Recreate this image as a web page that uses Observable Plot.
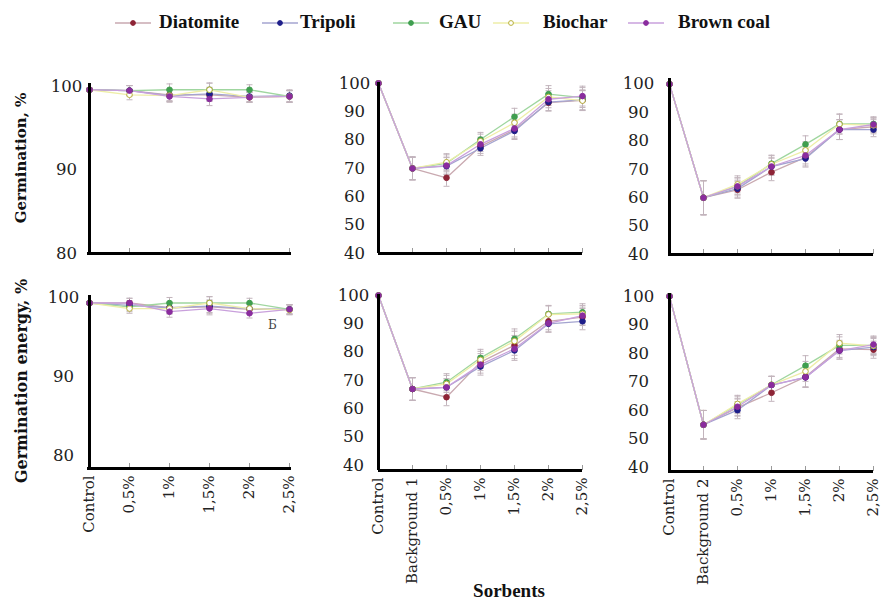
<!DOCTYPE html>
<html>
<head>
<meta charset="utf-8">
<script src="https://cdn.jsdelivr.net/npm/d3@7"></script>
<script src="https://cdn.jsdelivr.net/npm/@observablehq/plot@0.6"></script>
<style>
  html, body { margin: 0; padding: 0; background: #fff; }
  #chart { position: relative; width: 885px; height: 601px; overflow: hidden; background: #fff; }
  .abs { position: absolute; }
  .legtxt { position: absolute; top: 10px; font-family: "Liberation Serif", serif; font-weight: bold; font-size: 19px; color: #111; line-height: 24px; white-space: nowrap; }
  .ytitle { position: absolute; font-family: "DejaVu Serif", serif; font-weight: bold; color: #111; white-space: nowrap; transform: translate(-50%, -50%) rotate(-90deg); }
</style>
</head>
<body>
<div id="chart"></div>
<script>
// ---------- data ----------
const series = ["Diatomite", "Tripoli", "GAU", "Biochar", "Brown coal"];
const lineColors = ["#c9a9b0", "#a4a4d0", "#9fd69f", "#eeeea8", "#c9a0dc"];
const markerColors = ["#8e2436", "#1e1e8a", "#3f9e4f", "#b8b03a", "#8a2c9e"];
const markerFills = ["#8e2436", "#1e1e8a", "#3f9e4f", "#ffffff", "#8a2c9e"];

const catsA = ["Control", "0,5%", "1%", "1,5%", "2%", "2,5%"];
const catsB1 = ["Control", "Background 1", "0,5%", "1%", "1,5%", "2%", "2,5%"];
const catsB2 = ["Control", "Background 2", "0,5%", "1%", "1,5%", "2%", "2,5%"];

const ticksA = [80, 90, 100];
const ticksB = [40, 50, 60, 70, 80, 90, 100];

// rows in series order: Diatomite, Tripoli, GAU, Biochar, Brown coal
const germA = [
  [99.6, 99.5, 99.0, 99.0, 98.7, 98.8],
  [99.6, 99.5, 98.9, 99.1, 98.8, 98.9],
  [99.6, 99.5, 99.6, 99.6, 99.6, 98.8],
  [99.6, 99.0, 98.9, 99.6, 98.7, 98.8],
  [99.6, 99.5, 98.8, 98.5, 98.7, 98.8]
];
const germAErr = [0.2, 0.6, 0.7, 0.8, 0.6, 0.7];

const germB1 = [
  [100, 70, 66.7, 77.8, 83.6, 93.2, 94.0],
  [100, 70, 70.8, 77.1, 83.2, 93.4, 94.2],
  [100, 70, 71.8, 80.2, 88.2, 96.2, 95.0],
  [100, 70, 72.2, 79.6, 86.1, 95.2, 93.9],
  [100, 70, 71.0, 78.5, 84.1, 94.4, 95.5]
];
const germB1Err = [0, 4, 3, 2.5, 3, 3, 3.5];

const germB2 = [
  [100, 60, 62.8, 69.0, 74.2, 84.0, 85.0],
  [100, 60, 63.2, 71.0, 73.8, 84.0, 84.0],
  [100, 60, 64.0, 72.0, 78.8, 86.0, 86.0],
  [100, 60, 64.7, 71.8, 76.7, 85.9, 85.5],
  [100, 60, 64.0, 71.0, 74.9, 84.0, 85.8]
];
const germB2Err = [0, 6, 3, 3, 3, 3.5, 2.5];

const energyA = [
  [99.3, 99.3, 98.7, 98.8, 98.5, 98.5],
  [99.3, 99.0, 98.7, 98.9, 98.6, 98.5],
  [99.3, 98.8, 99.3, 99.3, 99.3, 98.5],
  [99.3, 98.6, 98.6, 99.3, 98.6, 98.4],
  [99.3, 99.3, 98.2, 98.6, 98.0, 98.5]
];
const energyAErr = [0.2, 0.6, 0.7, 0.8, 0.6, 0.6];

const energyB1 = [
  [100, 67, 64.1, 76.5, 82.4, 90.9, 92.4],
  [100, 67, 67.6, 74.9, 80.6, 90.0, 90.9],
  [100, 67, 69.4, 78.0, 84.7, 93.5, 94.1],
  [100, 67, 68.8, 77.3, 83.9, 93.3, 93.5],
  [100, 67, 67.6, 75.6, 81.2, 90.2, 92.9]
];
const energyB1Err = [0, 4, 3, 3, 3.5, 3, 3];

const energyB2 = [
  [100, 55, 61.0, 66.2, 71.8, 81.6, 81.3],
  [100, 55, 60.1, 68.9, 71.6, 81.0, 82.2],
  [100, 55, 62.0, 69.0, 75.7, 82.8, 82.8],
  [100, 55, 62.3, 69.0, 73.7, 83.6, 82.6],
  [100, 55, 61.3, 68.9, 71.6, 81.0, 83.1]
];
const energyB2Err = [0, 5, 3, 3, 3.5, 3, 3];

const errColor = "#c2b4bc";

// ---------- drawing ----------
const chart = document.getElementById("chart");
const capSymbol = { draw(ctx, size) { const w = Math.sqrt(size / Math.PI); ctx.moveTo(-w, 0); ctx.lineTo(w, 0); } };

function panel(cfg) {
  const data = cfg.values.flatMap((row, si) => row.map((v, i) => ({
    series: series[si], si, cat: cfg.cats[i], value: v, err: cfg.err[i]
  })));
  const plotH = cfg.height - cfg.mt - cfg.mb;
  const marks = [
    Plot.ruleX(cfg.cats, {x: d => d, stroke: "#9a9a9a", strokeWidth: 1, insetTop: plotH - 5}),
    Plot.ruleX(data, {x: "cat", y1: d => d.value - d.err, y2: d => d.value + d.err, stroke: errColor, strokeWidth: 1}),
    Plot.dot(data, {x: "cat", y: d => d.value + d.err, symbol: capSymbol, r: 3, stroke: errColor, fill: "none", strokeWidth: 1}),
    Plot.dot(data, {x: "cat", y: d => d.value - d.err, symbol: capSymbol, r: 3, stroke: errColor, fill: "none", strokeWidth: 1}),
    Plot.line(data, {x: "cat", y: "value", z: "series", stroke: d => lineColors[d.si], strokeWidth: 1.3}),
    Plot.dot(data, {x: "cat", y: "value", fill: d => markerFills[d.si], stroke: d => markerColors[d.si], r: 2.8, strokeWidth: 1}),
    Plot.ruleX([cfg.cats[0]], {x: d => d, stroke: "#000", strokeWidth: 3}),
    Plot.ruleY([cfg.y[0]], {y: d => d, stroke: "#000", strokeWidth: 3}),
    Plot.text(cfg.ticks, {y: d => d, text: d => String(d), frameAnchor: "left", dx: cfg.labelDx, textAnchor: "middle", fontSize: 16.5, fill: "#222"})
  ];
  if (cfg.showX) {
    marks.push(Plot.axisX({tickRotate: -90, tickSize: 0, tickPadding: 7, fontSize: 15, fill: "#222", label: null}));
  }
  if (cfg.extra) marks.push(...cfg.extra);
  const svg = Plot.plot({
    width: cfg.width, height: cfg.height,
    marginTop: cfg.mt, marginBottom: cfg.mb, marginLeft: cfg.ml, marginRight: cfg.mr,
    x: {type: "point", domain: cfg.cats, padding: 0, axis: cfg.showX ? undefined : null},
    y: {domain: cfg.y, axis: null},
    color: {type: "identity"},
    style: {fontFamily: "DejaVu Serif, serif", background: "transparent", overflow: "visible"},
    marks
  });
  svg.classList.add("abs");
  svg.style.left = cfg.left + "px";
  svg.style.top = cfg.top + "px";
  chart.appendChild(svg);
}

// top row
panel({cats: catsA, values: germA, err: germAErr, ticks: ticksA, y: [80, 100.35],
  left: 0, top: 60, width: 300, height: 203, mt: 23, mb: 10, ml: 87, mr: 9, labelDx: -21, showX: false});
panel({cats: catsB1, values: germB1, err: germB1Err, ticks: ticksB, y: [40, 100.3],
  left: 300, top: 60, width: 300, height: 203, mt: 22, mb: 10, ml: 78, mr: 18, labelDx: -24, showX: false});
panel({cats: catsB2, values: germB2, err: germB2Err, ticks: ticksB, y: [40, 102],
  left: 590, top: 60, width: 295, height: 204, mt: 18, mb: 10, ml: 78, mr: 12, labelDx: -30, showX: false});

// bottom row
panel({cats: catsA, values: energyA, err: energyAErr, ticks: ticksA, y: [78.35, 100.25],
  left: 0, top: 270, width: 300, height: 331, mt: 25, mb: 133, ml: 87, mr: 9, labelDx: -24, showX: true,
  extra: [Plot.text(["Б"], {x: () => "2%", y: () => 96.5, text: d => d, dx: 23, fontSize: 12, fill: "#444"})]});
panel({cats: catsB1, values: energyB1, err: energyB1Err, ticks: ticksB, y: [38.24, 100.35],
  left: 300, top: 270, width: 300, height: 331, mt: 24, mb: 131, ml: 78, mr: 18, labelDx: -25, showX: true});
panel({cats: catsB2, values: energyB2, err: energyB2Err, ticks: ticksB, y: [38.6, 101],
  left: 590, top: 270, width: 295, height: 331, mt: 23, mb: 130, ml: 78, mr: 12, labelDx: -30, showX: true});

// legend
const legLine = [115, 262, 393, 493, 628];
const legText = [159, 300, 439, 543, 678];
series.forEach((s, i) => {
  const sw = document.createElementNS("http://www.w3.org/2000/svg", "svg");
  sw.setAttribute("width", 36); sw.setAttribute("height", 12);
  sw.classList.add("abs");
  sw.style.left = legLine[i] + "px"; sw.style.top = "17px";
  sw.innerHTML = `<line x1="0" y1="6" x2="36" y2="6" stroke="${lineColors[i]}" stroke-width="1.5"/>` +
    `<circle cx="18" cy="6" r="2.4" fill="${markerFills[i]}" stroke="${markerColors[i]}" stroke-width="1"/>`;
  chart.appendChild(sw);
  const t = document.createElement("div");
  t.className = "legtxt";
  t.style.left = legText[i] + "px";
  t.textContent = s;
  chart.appendChild(t);
});

// axis titles
function title(text, x, y, size) {
  const d = document.createElement("div");
  d.className = "ytitle";
  d.style.left = x + "px"; d.style.top = y + "px"; d.style.fontSize = size + "px";
  d.textContent = text;
  chart.appendChild(d);
}
title("Germination, %", 21, 158, 15);
title("Germination energy, %", 21, 381, 16);

const xt = document.createElement("div");
xt.style.cssText = "position:absolute;left:509px;top:591px;transform:translate(-50%,-50%);font-family:'Liberation Serif',serif;font-weight:bold;font-size:19px;color:#111;white-space:nowrap;";
xt.textContent = "Sorbents";
chart.appendChild(xt);
</script>
</body>
</html>
